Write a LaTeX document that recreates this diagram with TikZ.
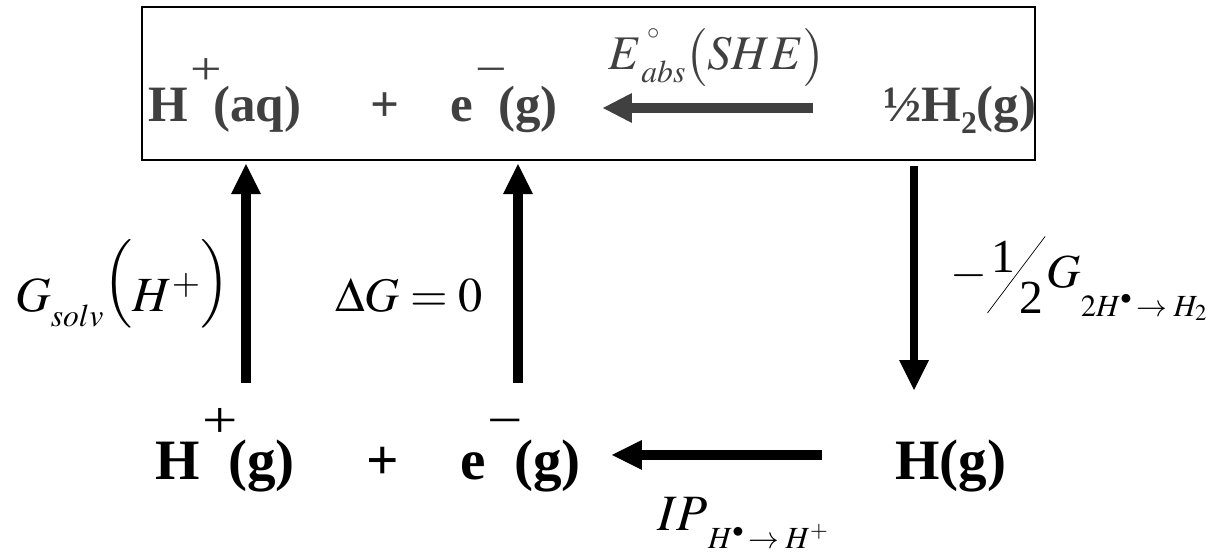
\documentclass[tikz,border=0pt]{standalone}
\usepackage{mathptmx}
\usepackage[no-math]{fontspec}
\setmainfont{Liberation Serif}
\usepackage{xcolor}
\usepackage{tikz}
\usetikzlibrary{arrows.meta, calc}
\definecolor{cellgrey}{RGB}{64,64,64}
% charge written above the symbol
\newcommand{\chg}[1]{\hspace{0.04em}\raisebox{0.74em}{\scalebox{1.1}[0.9]{\mdseries #1}}\hspace{-0.16em}}
% lowered index at a given size
\newcommand{\sublabel}[3]{\raisebox{#1}{\fontsize{#2}{#2}\selectfont$#3$}}
\newcommand{\slashhalf}{\mbox{\makebox[1.25em][l]{\rlap{\raisebox{-0.53em}{\rotatebox{53}{\rule{2.02em}{0.4pt}}}}\hspace{0.1em}\rlap{\raisebox{0.32em}{1}}\hspace{0.58em}\raisebox{-0.53em}{2}}}}

\begin{document}
\begin{tikzpicture}[x=0.02cm, y=-0.02cm,
    species/.style={inner sep=0pt, font=\fontsize{29}{32}\selectfont\bfseries},
    bigspecies/.style={inner sep=0pt, font=\fontsize{32.5}{36}\selectfont\bfseries},
    term/.style={inner sep=0pt, anchor=base west},
    fatarrow/.style={-{Triangle[length=0.6cm, width=0.6cm, line width=0pt]}, line width=0.2cm},
    greyarrow/.style={-{Triangle[length=0.58cm, width=0.6cm, line width=0pt]}, line width=0.21cm, cellgrey}
]
\useasboundingbox (0,0) rectangle (1208,553);

% Aqueous state (boxed)
\node[draw, line width=1.2pt, minimum width=17.86cm, minimum height=3.06cm, inner sep=0pt] (topbox) at (588.5,83.5) {};
\node[species, anchor=base west, text=cellgrey] (haq) at (148,122) {H\chg{+}(aq)};
\node[species, anchor=base, text=cellgrey] (plustop) at (385,122) {+};
\node[species, anchor=base west, text=cellgrey] (etop) at (450,122) {e\chg{−}(g)};
\node[species, anchor=base west, text=cellgrey] (halfhtwo) at (883,122) {½H\raisebox{-0.22em}{\scalebox{0.62}{2}}(g)};
\node[term, text=cellgrey, font=\fontsize{27.5}{30}\selectfont] (eabs) at (608,70)
  {$E\rlap{\hspace{0.12em}\raisebox{17.5pt}{\fontsize{14}{14}\selectfont$\circ$}}\sublabel{-7pt}{18pt}{abs}\bigl(SHE\bigr)$};

% Gas phase
\node[bigspecies, anchor=base west] (hg) at (155,480) {H\chg{+}(g)};
\node[bigspecies, anchor=base] (plusbot) at (383,480) {+};
\node[bigspecies, anchor=base west] (ebot) at (460,480) {e\chg{−}(g)};
\node[bigspecies, anchor=base west] (hrad) at (895,480) {H(g)};

% Energy terms
\node[term, font=\fontsize{28}{32}\selectfont] (gsolv) at (15,312)
  {$G\sublabel{-8pt}{18pt}{solv}\raisebox{9pt}{$\Bigl($}H^{+}\raisebox{9pt}{$\Bigr)$}$};
\node[term, font=\fontsize{27.5}{30}\selectfont] (dgzero) at (335,312) {$\Delta G=0$};
\node[term, font=\fontsize{27}{30}\selectfont] (gdimer) at (950,288)
  {$-\slashhalf G\sublabel{-16pt}{17.5pt}{2H^{\bullet}\!\to H_{2}}$};
\node[term, font=\fontsize{29}{32}\selectfont] (iprad) at (657,531)
  {$IP\sublabel{-10pt}{17.5pt}{H^{\bullet}\!\to H^{+}}$};

% Cycle arrows
\coordinate (solvfoot) at (246,383);
\coordinate (zerofoot) at (518,383);
\coordinate (dimerhead) at (914,390);
\draw[fatarrow, shorten >=0.06cm] (solvfoot) -- (solvfoot |- topbox.south);
\draw[fatarrow, shorten >=0.06cm] (zerofoot) -- (zerofoot |- topbox.south);
\draw[fatarrow, line width=0.16cm, shorten <=0.1cm] (dimerhead |- topbox.south) -- (dimerhead);
\draw[greyarrow] ($(halfhtwo.base west)+(-70,-14)$) -- ($(etop.base west)+(153,-14)$);
\draw[fatarrow] ($(hrad.base west)+(-73,-25)$) -- ($(ebot.base west)+(152,-25)$);

\end{tikzpicture}
\end{document}
